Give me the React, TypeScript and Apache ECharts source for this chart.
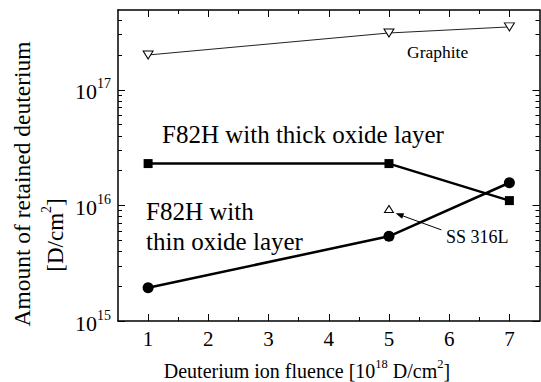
import React, { useEffect, useRef } from "react";
import * as echarts from "echarts";

const FLUENCE = [1, 5, 7];
const GRAPHITE = [2.0e17, 3.1e17, 3.5e17];
const THICK_OXIDE = [2.3e16, 2.3e16, 1.1e16];
const THIN_OXIDE = [1.94e15, 5.4e15, 1.57e16];
const SS316L_X = [5];
const SS316L = [9.3e15];

const X_MIN = 0.5;
const X_MAX = 7.5;
const Y_MIN = 1e15;
const Y_MAX = 4.9e17;
const X_MAJOR = [1, 2, 3, 4, 5, 6, 7];
const X_MINOR = [1.5, 2.5, 3.5, 4.5, 5.5, 6.5];
const Y_DECADES = [15, 16, 17];
const Y_MINOR_MULT = [2, 3, 4, 5, 6, 7, 8, 9];

const ARROW_FROM = [5.87, 6.14e15];
const ARROW_TO = [5.11, 8.55e15];

const FONT = "Liberation Serif";

const lg = (v: number) => Math.log10(v);
const pts = (xs: number[], ys: number[]) => xs.map((x, i) => [x, lg(ys[i])]);

export default function App() {
  const ref = useRef<HTMLDivElement>(null);
  useEffect(() => {
    if (!ref.current) return;
    const chart = echarts.init(ref.current, null, { renderer: "svg" });
    const yMinor: number[] = [];
    Y_DECADES.forEach((d) => Y_MINOR_MULT.forEach((m) => {
      const v = lg(m) + d;
      if (v < lg(Y_MAX)) yMinor.push(v);
    }));
    const black = "#000";
    const baseX = { type: "value", min: X_MIN, max: X_MAX, gridIndex: 0, splitLine: { show: false } };
    const baseY = { type: "value", min: lg(Y_MIN), max: lg(Y_MAX), gridIndex: 0, splitLine: { show: false } };
    const option: any = {
      animation: false,
      backgroundColor: "#fff",
      textStyle: { fontFamily: FONT },
      grid: { left: 118, right: 1.5, top: 10, bottom: 61 },
      xAxis: [
        {
          ...baseX, position: "bottom",
          axisLine: { show: true, lineStyle: { color: black, width: 1.5 } },
          axisTick: { show: true, inside: true, length: 7, customValues: X_MAJOR, lineStyle: { color: black, width: 1 } },
          axisLabel: { show: true, customValues: X_MAJOR, fontFamily: FONT, fontSize: 21, color: black, margin: 7 },
        },
        {
          ...baseX, position: "bottom", axisLine: { show: false },
          axisTick: { show: true, inside: true, length: 4, customValues: X_MINOR, lineStyle: { color: black, width: 1 } },
          axisLabel: { show: false },
        },
        {
          ...baseX, position: "top",
          axisLine: { show: true, lineStyle: { color: black, width: 1.5 } },
          axisTick: { show: true, inside: true, length: 7, customValues: X_MAJOR, lineStyle: { color: black, width: 1 } },
          axisLabel: { show: false },
        },
        {
          ...baseX, position: "top", axisLine: { show: false },
          axisTick: { show: true, inside: true, length: 4, customValues: X_MINOR, lineStyle: { color: black, width: 1 } },
          axisLabel: { show: false },
        },
      ],
      yAxis: [
        {
          ...baseY, position: "left",
          axisLine: { show: true, lineStyle: { color: black, width: 1.5 } },
          axisTick: { show: true, inside: true, length: 7, customValues: Y_DECADES, lineStyle: { color: black, width: 1 } },
          axisLabel: {
            show: true, customValues: Y_DECADES, margin: 7,
            formatter: (v: number) => `{b|10}{s|${Math.round(v)}}`,
            rich: {
              b: { fontFamily: FONT, fontSize: 22, color: black, verticalAlign: "bottom" },
              s: { fontFamily: FONT, fontSize: 14, color: black, verticalAlign: "bottom", padding: [0, 0, 12, 0] },
            },
          },
        },
        {
          ...baseY, position: "left", axisLine: { show: false },
          axisTick: { show: true, inside: true, length: 4, customValues: yMinor, lineStyle: { color: black, width: 1 } },
          axisLabel: { show: false },
        },
        {
          ...baseY, position: "right",
          axisLine: { show: true, lineStyle: { color: black, width: 1.5 } },
          axisTick: { show: true, inside: true, length: 7, customValues: Y_DECADES, lineStyle: { color: black, width: 1 } },
          axisLabel: { show: false },
        },
        {
          ...baseY, position: "right", axisLine: { show: false },
          axisTick: { show: true, inside: true, length: 4, customValues: yMinor, lineStyle: { color: black, width: 1 } },
          axisLabel: { show: false },
        },
      ],
      series: [
        {
          name: "Graphite", type: "line", data: pts(FLUENCE, GRAPHITE),
          symbol: "triangle", symbolRotate: 180, symbolSize: [10, 8], showAllSymbol: true,
          lineStyle: { color: "#222", width: 1 },
          itemStyle: { color: "#fff", borderColor: black, borderWidth: 1 },
        },
        {
          name: "F82H thick", type: "line", data: pts(FLUENCE, THICK_OXIDE),
          symbol: "rect", symbolSize: 9,
          lineStyle: { color: black, width: 2.5 }, itemStyle: { color: black },
        },
        {
          name: "F82H thin", type: "line", data: pts(FLUENCE, THIN_OXIDE),
          symbol: "circle", symbolSize: 11,
          lineStyle: { color: black, width: 2.5 }, itemStyle: { color: black },
        },
        {
          name: "SS 316L", type: "scatter", data: pts(SS316L_X, SS316L),
          symbol: "triangle", symbolSize: [9, 7],
          itemStyle: { color: "#fff", borderColor: black, borderWidth: 1, opacity: 1 },
        },
      ],
    };
    chart.setOption(option);

    const from = chart.convertToPixel({ gridIndex: 0 }, [ARROW_FROM[0], lg(ARROW_FROM[1])]) as number[];
    const to = chart.convertToPixel({ gridIndex: 0 }, [ARROW_TO[0], lg(ARROW_TO[1])]) as number[];
    const dx = to[0] - from[0];
    const dy = to[1] - from[1];
    const len = Math.hypot(dx, dy);
    const ux = dx / len;
    const uy = dy / len;
    const headL = 8;
    const headW = 3;
    const bx = to[0] - ux * headL;
    const by = to[1] - uy * headL;

    chart.setOption({
      graphic: [
        { type: "line", shape: { x1: from[0], y1: from[1], x2: bx, y2: by }, style: { stroke: black, lineWidth: 1 } },
        {
          type: "polygon",
          shape: { points: [[to[0], to[1]], [bx - uy * headW, by + ux * headW], [bx + uy * headW, by - ux * headW]] },
          style: { fill: black },
        },
        {
          type: "text", x: 22, y: 184, rotation: Math.PI / 2,
          style: { text: "Amount of retained deuterium", fontFamily: FONT, fontSize: 23.5, fill: black, align: "center", verticalAlign: "middle" },
        },
        {
          type: "text", x: 53, y: 235, rotation: Math.PI / 2,
          style: {
            text: "{a|[D/cm}{s|2}{a|]}", fill: black, fontFamily: FONT, align: "center", verticalAlign: "middle",
            rich: {
              a: { fontFamily: FONT, fontSize: 23, fill: black, verticalAlign: "bottom" },
              s: { fontFamily: FONT, fontSize: 14, fill: black, verticalAlign: "bottom", padding: [0, 0, 13, 0] },
            },
          },
        },
        {
          type: "text", x: 307, y: 369,
          style: {
            text: "{a|Deuterium ion fluence [10}{s|18}{a| D/cm}{s|2}{a|]}", fill: black, fontFamily: FONT, align: "center", verticalAlign: "middle",
            rich: {
              a: { fontFamily: FONT, fontSize: 20, fill: black, verticalAlign: "bottom" },
              s: { fontFamily: FONT, fontSize: 12.5, fill: black, verticalAlign: "bottom", padding: [0, 0, 10, 0] },
            },
          },
        },
        {
          type: "text", x: 162, y: 134,
          style: { text: "F82H with thick oxide layer", fontFamily: FONT, fontSize: 25, fill: black, align: "left", verticalAlign: "middle" },
        },
        {
          type: "text", x: 146, y: 211,
          style: { text: "F82H with", fontFamily: FONT, fontSize: 25, fill: black, align: "left", verticalAlign: "middle" },
        },
        {
          type: "text", x: 146, y: 241,
          style: { text: "thin oxide layer", fontFamily: FONT, fontSize: 25, fill: black, align: "left", verticalAlign: "middle" },
        },
        {
          type: "text", x: 407, y: 52,
          style: { text: "Graphite", fontFamily: FONT, fontSize: 17.5, fill: black, align: "left", verticalAlign: "middle" },
        },
        {
          type: "text", x: 446, y: 237,
          style: { text: "SS 316L", fontFamily: FONT, fontSize: 18, fill: black, align: "left", verticalAlign: "middle" },
        },
      ],
    });
    return () => chart.dispose();
  }, []);
  return <div ref={ref} style={{ width: 541, height: 382, position: "absolute", left: 0, top: 0 }} />;
}
